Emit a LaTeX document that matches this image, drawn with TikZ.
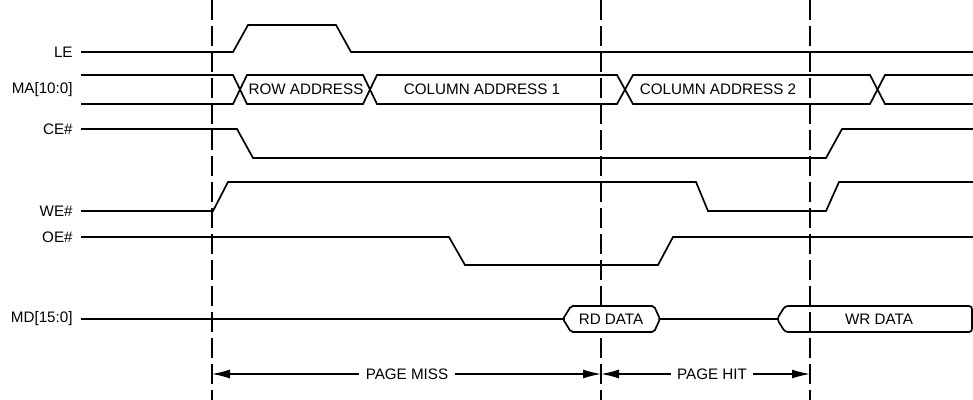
\documentclass[tikz,border=0pt]{standalone}
\usepackage{fontspec}
\setmainfont{Liberation Sans}
\usetikzlibrary{arrows.meta}
\tikzset{
  wave/.style={line width=0.85pt, line join=miter},
  siglabel/.style={anchor=east, inner sep=0pt, font=\fontsize{7.6}{9}\selectfont},
  buslabel/.style={inner sep=0pt, font=\fontsize{7.6}{9}\selectfont},
  marker/.style={line width=0.7pt, dash pattern=on 10pt off 3pt},
  span/.style={line width=0.7pt, -{Latex[length=9pt,width=4.5pt]}},
}
\begin{document}
\begin{tikzpicture}[x=0.5pt,y=-0.5pt]
\useasboundingbox (0,0) rectangle (973,400);

% time markers
\draw[marker] (212,0) -- (212,400);
\draw[marker] (601,0) -- (601,400);
\draw[marker] (810,0) -- (810,400);

% signal names
\node[siglabel] (le) at (73,52) {LE};
\node[siglabel] (ma) at (73,89.5) {MA[10:0]};
\node[siglabel] (ce) at (73,129) {CE\#};
\node[siglabel] (we) at (73,211) {WE\#};
\node[siglabel] (oe) at (73,237) {OE\#};
\node[siglabel] (md) at (73,319) {MD[15:0]};

% LE
\draw[wave] ([xshift=4pt]le.east) -- (233,52) -- (248,25) -- (336,25) -- (351,52) -- (973,52);

% MA bus
\draw[wave] ([xshift=4pt,yshift=7.25pt]ma.east) -- (233,75) -- (247,104) -- (363,104) -- (377,75)
  -- (617,75) -- (633,104) -- (870,104) -- (885,75) -- (973,75);
\draw[wave] ([xshift=4pt,yshift=-7.25pt]ma.east) -- (233,104) -- (247,75) -- (363,75) -- (377,104)
  -- (617,104) -- (633,75) -- (870,75) -- (885,104) -- (973,104);
\node[buslabel] (row) at (306,89.5) {ROW ADDRESS};
\node[buslabel] (col1) at (482,89.5) {COLUMN ADDRESS 1};
\node[buslabel] (col2) at (718,89.5) {COLUMN ADDRESS 2};

% CE#
\draw[wave] ([xshift=4pt]ce.east) -- (237,129) -- (253,158) -- (826,158) -- (842,129) -- (973,129);

% WE#
\draw[wave] ([xshift=4pt]we.east) -- (213,211) -- (228,182) -- (696,182) -- (708,211)
  -- (826,211) -- (839,182) -- (973,182);

% OE#
\draw[wave] ([xshift=4pt]oe.east) -- (449,237) -- (465,265) -- (658,265) -- (673,237) -- (973,237);

% MD bus
\draw[wave] ([xshift=4pt]md.east) -- (563,319);
\draw[wave, fill=white, rounded corners=1pt] (563,319) -- (571,306) -- (654,306) -- (660,319) -- (654,332) -- (571,332) -- cycle;
\draw[wave] (660,319) -- (777,319);
\draw[wave, rounded corners=1.5pt] (777,319) -- (785,306) -- (972,306) -- (972,332) -- (785,332) -- cycle;
\node[buslabel] (rd) at (611,319) {RD DATA};
\node[buslabel] (wr) at (879,319) {WR DATA};

% cycle spans
\coordinate (t0) at (212,374);
\coordinate (t1) at (601,374);
\coordinate (t2) at (810,374);
\node[buslabel] (miss) at (407,374) {PAGE MISS};
\node[buslabel] (hit) at (712,374) {PAGE HIT};
\draw[span] ([xshift=-3pt]miss.west) -- (t0);
\draw[span] ([xshift=3pt]miss.east) -- (t1);
\draw[span] ([xshift=-3pt]hit.west) -- (t1);
\draw[span] ([xshift=3pt]hit.east) -- (t2);
\end{tikzpicture}
\end{document}
